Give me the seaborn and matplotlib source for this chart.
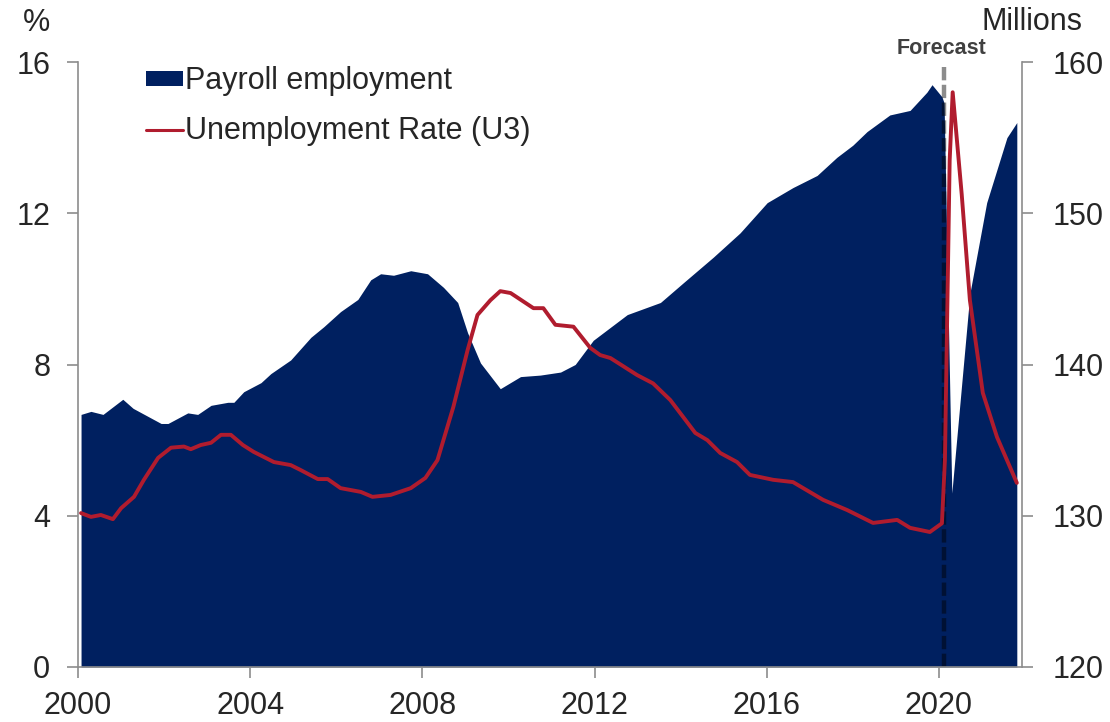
import matplotlib
matplotlib.use("Agg")
import matplotlib.pyplot as plt
import seaborn as sns
import numpy as np
from matplotlib.patches import Patch
from matplotlib.lines import Line2D

# Payroll employment (millions)
pay_year = [2000.07, 2000.30, 2000.58, 2001.04, 2001.28, 2001.93, 2002.09, 2002.55, 2002.78,
            2003.09, 2003.48, 2003.62, 2003.85, 2004.25, 2004.48, 2004.94, 2005.41, 2005.71,
            2006.10, 2006.50, 2006.80, 2007.03, 2007.33, 2007.73, 2008.12, 2008.49, 2008.82,
            2009.05, 2009.35, 2009.81, 2010.28, 2010.74, 2011.21, 2011.55, 2011.97, 2012.76,
            2013.53, 2014.06, 2014.76, 2015.38, 2016.01, 2016.61, 2017.17, 2017.63, 2018.00,
            2018.33, 2018.86, 2019.33, 2019.72, 2019.84, 2020.07, 2020.12, 2020.30, 2020.72,
            2021.11, 2021.58, 2021.81]
payroll = [136.7, 136.9, 136.7, 137.7, 137.1, 136.1, 136.1, 136.8, 136.7,
           137.3, 137.5, 137.5, 138.2, 138.8, 139.4, 140.3, 141.8, 142.5,
           143.5, 144.3, 145.6, 146.0, 145.9, 146.2, 146.0, 145.1, 144.1,
           142.1, 140.1, 138.4, 139.2, 139.3, 139.5, 140.0, 141.6, 143.3,
           144.1, 145.4, 147.1, 148.7, 150.7, 151.7, 152.5, 153.7, 154.5,
           155.4, 156.5, 156.8, 158.0, 158.5, 157.7, 157.3, 131.5, 144.7,
           150.7, 155.0, 156.0]

# Unemployment rate U3 (%)
ur_year = [2000.07, 2000.30, 2000.53, 2000.81, 2001.00, 2001.30, 2001.53, 2001.86, 2002.16,
           2002.46, 2002.62, 2002.85, 2003.09, 2003.32, 2003.55, 2003.83, 2004.08, 2004.55,
           2004.94, 2005.17, 2005.57, 2005.80, 2006.10, 2006.57, 2006.84, 2007.26, 2007.73,
           2008.07, 2008.35, 2008.72, 2009.05, 2009.28, 2009.58, 2009.81, 2010.05, 2010.58,
           2010.81, 2011.09, 2011.51, 2011.90, 2012.13, 2012.37, 2012.99, 2013.36, 2013.76,
           2014.06, 2014.34, 2014.62, 2014.92, 2015.31, 2015.61, 2016.15, 2016.61, 2017.31,
           2017.87, 2018.47, 2019.03, 2019.33, 2019.79, 2020.07, 2020.14, 2020.25, 2020.32,
           2020.53, 2020.72, 2021.02, 2021.35, 2021.81]
unemp = [4.07, 3.97, 4.02, 3.91, 4.2, 4.5, 4.95, 5.53, 5.8,
         5.83, 5.76, 5.87, 5.93, 6.14, 6.14, 5.87, 5.69, 5.42,
         5.34, 5.21, 4.97, 4.97, 4.73, 4.63, 4.5, 4.55, 4.73,
         5.0, 5.47, 6.88, 8.38, 9.31, 9.7, 9.94, 9.89, 9.49,
         9.49, 9.05, 9.0, 8.44, 8.25, 8.17, 7.72, 7.5, 7.06,
         6.61, 6.19, 6.0, 5.66, 5.42, 5.08, 4.95, 4.89, 4.42,
         4.15, 3.81, 3.89, 3.68, 3.57, 3.8, 5.47, 13.4, 15.2,
         12.5, 9.7, 7.25, 6.08, 4.87]

x_ticks = [2000, 2004, 2008, 2012, 2016, 2020]
forecast_x = 2020.12

navy = '#002060'
red = '#b01c2e'
grey = '#8c8c8c'
txt = '#262626'

sns.set_theme(style='white')
plt.rcParams['font.family'] = ['Liberation Sans', 'DejaVu Sans']

fig = plt.figure(figsize=(11.1, 7.22), dpi=100)
ax = fig.add_axes([0.0703, 0.0762, 0.8504, 0.8379])
ax2 = ax.twinx()

# payroll area on right axis
ax2.fill_between(pay_year, 120, payroll, color=navy, lw=0)
ax2.axvline(forecast_x, ymin=0, ymax=0.993, color='black', alpha=0.45, lw=3.2, ls=(0, (3, 1)))
ax2.set_ylim(120, 160)
ax2.set_yticks([120, 130, 140, 150, 160])

# unemployment line on left axis, drawn on top
sns.lineplot(x=ur_year, y=unemp, ax=ax, color=red, lw=2.8, legend=False)
ax.set_zorder(ax2.get_zorder() + 1)
ax.patch.set_visible(False)
ax.set_ylim(0, 16)
ax.set_yticks([0, 4, 8, 12, 16])
ax.set_xlim(2000, 2021.93)
ax.set_xticks(x_ticks)

for a in (ax, ax2):
    for side in ('left', 'right', 'bottom'):
        a.spines[side].set_color(grey)
        a.spines[side].set_linewidth(1.2)
    a.spines['top'].set_visible(False)
    a.tick_params(colors=grey, labelcolor=txt, labelsize=22, length=8, width=1.2)
ax.tick_params(axis='y', direction='out', left=True, pad=12)
ax.tick_params(axis='x', direction='out', bottom=True, pad=9)
ax2.tick_params(axis='y', direction='out', right=True, pad=14)
ax2.spines['left'].set_visible(False)
ax2.spines['bottom'].set_visible(False)
ax.spines['right'].set_visible(False)

handles = [Patch(facecolor=navy, edgecolor='none'),
           Line2D([], [], color=red, lw=2.2)]
ax.legend(handles, ['Payroll employment', 'Unemployment Rate (U3)'],
          loc='upper left', bbox_to_anchor=(0.0723, 0.993), frameon=False,
          fontsize=22, handlelength=1.2, handleheight=0.4, handletextpad=0.08,
          borderpad=0, borderaxespad=0, labelspacing=0.65, labelcolor=txt)

fig.text(37 / 1110, 1 - 31 / 722, '%', fontsize=22, color=txt, ha='center', va='baseline')
fig.text(1032 / 1110, 1 - 30 / 722, 'Millions', fontsize=22, color=txt, ha='center', va='baseline')
ax.text(forecast_x - 0.05, 16.08, 'Forecast', fontsize=15.5, fontweight='bold', color='#404040',
        ha='center', va='bottom')

fig.savefig('out.png', dpi=100)
